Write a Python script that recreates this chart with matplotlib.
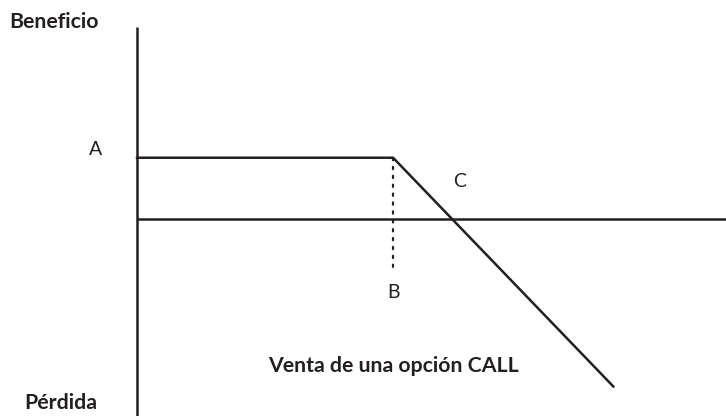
import matplotlib.pyplot as plt

# Short call payoff: flat premium until the strike, then loses one for one
strike = 100
premium = 23
price = [-53.5, strike, 186]
payoff = [premium, premium, premium - (186 - strike)]
axis_top = 72

ink = "#231f20"
plt.rcParams['font.family'] = ['Lato', 'DejaVu Sans']

fig = plt.figure(figsize=(7.26, 4.16), dpi=100)
ax = fig.add_axes([0, 0, 1, 1])
ax.set_xlim(-53.5, 230)
ax.set_ylim(-74.1, 82.3)
ax.axis("off")

# profit axis and zero line
ax.plot([0, 0], [-74.1, axis_top], color=ink, lw=1.8, solid_capstyle="butt")
ax.plot([0, 230], [0, 0], color=ink, lw=1.8, solid_capstyle="butt")

# payoff line starting at the axis
ax.plot([0] + price[1:], [premium] + payoff[1:], color=ink, lw=1.8)

# dotted guide down from the strike
ax.plot([strike, strike], [premium, -20.3], color=ink, lw=1.6,
        linestyle=(0, (1, 3)), dash_capstyle="round")

ax.text(0.075, 0.947, "Beneficio", transform=ax.transAxes, ha="center",
        va="center", fontsize=15.3, fontweight="bold", color=ink)
ax.text(0.083, 0.031, "Pérdida", transform=ax.transAxes, ha="center",
        va="center", fontsize=15.3, fontweight="bold", color=ink)
ax.text(-16, 26, "A", ha="center", va="center", fontsize=14, color=ink)
ax.text(strike, -27.5, "B", ha="center", va="center", fontsize=14, color=ink)
ax.text(126, 14, "C", ha="center", va="center", fontsize=14, color=ink)
ax.text(100, -55.3, "Venta de una opción CALL", ha="center", va="center",
        fontsize=15.3, fontweight="bold", color=ink)

fig.savefig("out.png", dpi=100)
